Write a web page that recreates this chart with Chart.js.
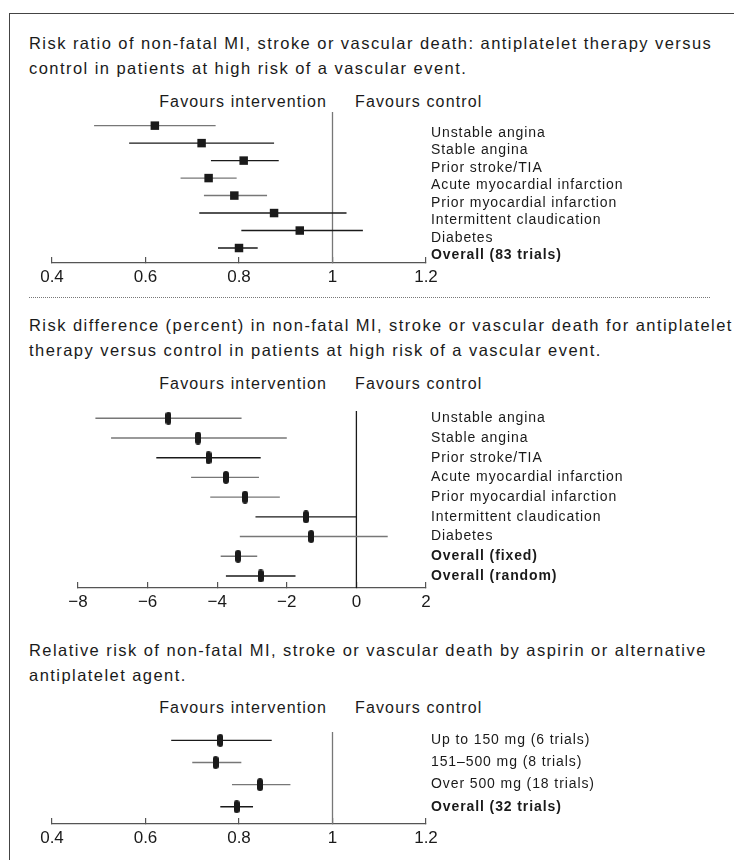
<!DOCTYPE html>
<html>
<head>
<meta charset="utf-8">
<script src="https://cdn.jsdelivr.net/npm/chart.js@4.4.1/dist/chart.umd.min.js"></script>
<style>
  body {
    margin: 0; width: 734px; height: 860px; position: relative; overflow: hidden;
    background: #fff; color: #1a1a1a;
    font-family: 'Liberation Sans', Arial, sans-serif;
  }
  .frame { position: absolute; left: 9px; top: 13px; right: 0; bottom: 0;
           border-top: 1.5px solid #444; border-left: 1.5px solid #444; }
  .title { position: absolute; left: 29px; font-size: 16.5px; line-height: 25px;
           letter-spacing: 1.45px; white-space: nowrap; }
  .fav { position: absolute; font-size: 16px; line-height: 20px;
         letter-spacing: 1.15px; white-space: nowrap; }
  .fav.int { right: 406.85px; text-align: right; }
  .fav.ctl { left: 355px; }
  .sep { position: absolute; left: 29px; width: 681px; top: 297px; border-top: 1px dotted #777; }
  canvas { position: absolute; left: 0; }
</style>
</head>
<body>
<div class="frame"></div>

<div class="title" style="top:30.5px">Risk ratio of non-fatal MI, stroke or vascular death: antiplatelet therapy versus<br>control in patients at high risk of a vascular event.</div>
<div class="fav int" style="top:92px">Favours intervention</div>
<div class="fav ctl" style="top:92px">Favours control</div>
<canvas id="ratioChart" width="734" height="201" style="top:92px"></canvas>

<div class="sep"></div>

<div class="title" style="top:312.5px">Risk difference (percent) in non-fatal MI, stroke or vascular death for antiplatelet<br>therapy versus control in patients at high risk of a vascular event.</div>
<div class="fav int" style="top:374.3px">Favours intervention</div>
<div class="fav ctl" style="top:374.3px">Favours control</div>
<canvas id="diffChart" width="734" height="227" style="top:391px"></canvas>

<div class="title" style="top:637.5px">Relative risk of non-fatal MI, stroke or vascular death by aspirin or alternative<br>antiplatelet agent.</div>
<div class="fav int" style="top:698.3px">Favours intervention</div>
<div class="fav ctl" style="top:698.3px">Favours control</div>
<canvas id="doseChart" width="734" height="142" style="top:712px"></canvas>

<script>
// Data
const ratioLabels = ['Unstable angina', 'Stable angina', 'Prior stroke/TIA', 'Acute myocardial infarction',
    'Prior myocardial infarction', 'Intermittent claudication', 'Diabetes', 'Overall (83 trials)'];
const ratioEst  = [0.62, 0.72, 0.81, 0.735, 0.79, 0.875, 0.93, 0.80];
const ratioLow  = [0.49, 0.565, 0.74, 0.675, 0.725, 0.715, 0.805, 0.755];
const ratioHigh = [0.75, 0.875, 0.885, 0.795, 0.86, 1.03, 1.065, 0.84];

const diffLabels = ['Unstable angina', 'Stable angina', 'Prior stroke/TIA', 'Acute myocardial infarction',
    'Prior myocardial infarction', 'Intermittent claudication', 'Diabetes', 'Overall (fixed)', 'Overall (random)'];
const diffEst  = [-5.4, -4.55, -4.25, -3.75, -3.2, -1.45, -1.3, -3.4, -2.75];
const diffLow  = [-7.5, -7.05, -5.75, -4.75, -4.2, -2.9, -3.35, -3.9, -3.75];
const diffHigh = [-3.3, -2.0, -2.75, -2.8, -2.2, 0, 0.9, -2.85, -1.75];

const doseLabels = ['Up to 150 mg (6 trials)', '151\u2013500 mg (8 trials)', 'Over 500 mg (18 trials)', 'Overall (32 trials)'];
const doseEst  = [0.76, 0.75, 0.845, 0.795];
const doseLow  = [0.655, 0.70, 0.785, 0.76];
const doseHigh = [0.87, 0.805, 0.91, 0.83];

const ratioTicks = [0.4, 0.6, 0.8, 1, 1.2];
const diffTicks = [-8, -6, -4, -2, 0, 2];

// Styles
const FONT = "'Liberation Sans', Arial, sans-serif";
const TEXT = '#1a1a1a';
const INK = '#1a1a1a';
const GREY = '#777';
const AXIS = '#555';

function pill(w, h) {
    const c = document.createElement('canvas');
    c.width = w; c.height = h;
    const g = c.getContext('2d');
    const r = w / 2;
    g.fillStyle = INK;
    g.beginPath();
    g.arc(r, r, r, Math.PI, 0);
    g.lineTo(w, h - r);
    g.arc(r, h - r, r, 0, Math.PI);
    g.closePath();
    g.fill();
    return c;
}

function fmt(v) {
    return v < 0 ? '\u2212' + Math.abs(v) : String(v);
}

// row labels get a little tracking; they are drawn after the datasets
const tracking = {
    id: 'tracking',
    beforeDraw: c => { c.ctx.letterSpacing = '0px'; },
    afterDatasetsDraw: c => { c.ctx.letterSpacing = '0.9px'; },
    afterDraw: c => { c.ctx.letterSpacing = '0px'; }
};

function makeForest(id, o) {
    const datasets = [{
        data: o.est.map((v, i) => ({ x: v, y: i })),
        pointStyle: o.marker,
        pointRadius: 6,
        backgroundColor: INK,
        borderWidth: 0,
        order: 0
    }];
    o.low.forEach((lo, i) => {
        datasets.push({
            data: [{ x: lo, y: i }, { x: o.high[i], y: i }],
            showLine: true,
            borderColor: o.ink[i],
            borderWidth: 1.4,
            pointRadius: 0,
            order: 1
        });
    });
    datasets.push({
        data: [{ x: o.ref, y: o.yMin }, { x: o.ref, y: o.yMax }],
        showLine: true,
        borderColor: o.refColor,
        borderWidth: 1.3,
        pointRadius: 0,
        order: 2
    });

    return new Chart(document.getElementById(id), {
        type: 'scatter',
        data: { datasets },
        plugins: [tracking],
        options: {
            responsive: false,
            animation: false,
            devicePixelRatio: 1,
            events: [],
            layout: { padding: { left: o.left, right: 0, top: 20, bottom: 0 } },
            plugins: { legend: { display: false }, tooltip: { enabled: false } },
            scales: {
                x: {
                    type: 'linear',
                    min: o.ticks[0],
                    max: o.ticks[o.ticks.length - 1],
                    afterBuildTicks: s => { s.ticks = o.ticks.map(v => ({ value: v })); },
                    afterFit: s => { s.height = 30; },
                    ticks: {
                        callback: v => fmt(v),
                        font: { family: FONT, size: 17 },
                        color: TEXT,
                        padding: 10,
                        maxRotation: 0,
                        autoSkip: false
                    },
                    grid: { drawOnChartArea: false, drawTicks: true, tickLength: -6, color: AXIS, lineWidth: 1.2 },
                    border: { display: true, color: AXIS, width: 1.2 }
                },
                y: { type: 'linear', reverse: true, min: o.yMin, max: o.yMax, display: false },
                names: {
                    type: 'linear',
                    position: 'right',
                    reverse: true,
                    min: o.yMin - o.shift,
                    max: o.yMax - o.shift,
                    afterBuildTicks: s => { s.ticks = o.labels.map((_, i) => ({ value: i })); },
                    afterFit: s => { s.width = 734 - 426; },
                    ticks: {
                        callback: (v, i) => o.labels[i],
                        font: ctx => ({
                            family: FONT,
                            size: 14,
                            weight: (o.labels[ctx.index] || '').startsWith('Overall') ? 'bold' : 'normal'
                        }),
                        color: TEXT,
                        padding: 5,
                        autoSkip: false,
                        z: 1
                    },
                    grid: { display: false, drawTicks: false },
                    border: { display: false }
                }
            }
        }
    });
}

let charts = {};

charts.ratio = makeForest('ratioChart', {
    labels: ratioLabels, est: ratioEst, low: ratioLow, high: ratioHigh,
    ticks: ratioTicks, ref: 1, refColor: GREY,
    marker: 'rect', left: 52,
    yMin: -0.78, yMax: 7.857, shift: 0.42,
    ink: [GREY, INK, INK, GREY, GREY, INK, INK, INK]
});

charts.diff = makeForest('diffChart', {
    labels: diffLabels, est: diffEst, low: diffLow, high: diffHigh,
    ticks: diffTicks, ref: 0, refColor: INK,
    marker: pill(6, 13), left: 78,
    yMin: -0.37, yMax: 8.61, shift: 0,
    ink: [GREY, GREY, INK, GREY, GREY, INK, GREY, GREY, INK]
});

charts.dose = makeForest('doseChart', {
    labels: doseLabels, est: doseEst, low: doseLow, high: doseHigh,
    ticks: ratioTicks, ref: 1, refColor: GREY,
    marker: pill(6, 13), left: 52,
    yMin: -0.38, yMax: 3.78, shift: 0,
    ink: [INK, GREY, GREY, INK]
});
</script>
</body>
</html>
